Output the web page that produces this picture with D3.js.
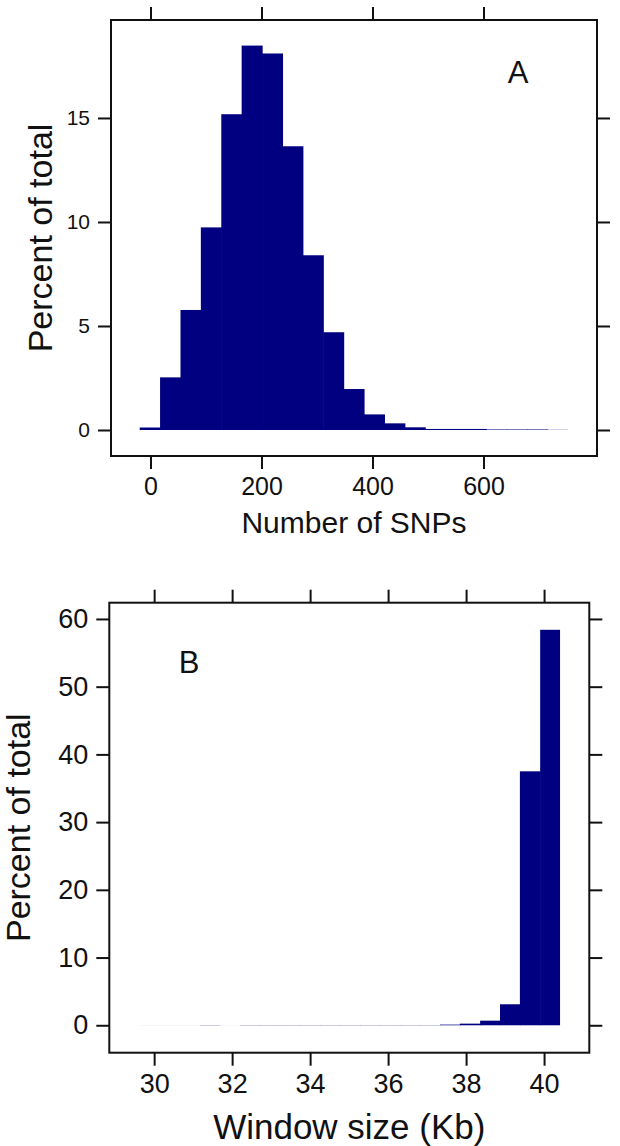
<!DOCTYPE html>
<html>
<head>
<meta charset="utf-8">
<script src="https://cdnjs.cloudflare.com/ajax/libs/d3/7.8.5/d3.min.js"></script>
<style>
  body { margin: 0; background: #fff; }
  svg text { font-family: "Liberation Sans", Arial, sans-serif; fill: #111; }
</style>
</head>
<body>
<div id="chart"></div>
<script>
// panel A: number of SNPs per window
var snpEdges = [-19.5, 17.2, 54, 90.7, 127.5, 164.2, 201, 237.7, 274.4, 311.2, 347.9,
    384.6, 421.4, 458.1, 494.8, 531.6, 568.3, 605, 641.8, 678.5, 715.3, 752];
var snpPercent = [0.12, 2.53, 5.77, 9.74, 15.18, 18.48, 18.1, 13.64, 8.4, 4.7, 1.97,
    0.75, 0.32, 0.13, 0.05, 0.05, 0.05, 0.025, 0.025, 0.025, 0.008];
var snpXTicks = [0, 200, 400, 600];
var snpYTicks = [0, 5, 10, 15];

// panel B: window size in Kb
var winEdges = [29.63, 30.14, 30.66, 31.17, 31.68, 32.2, 32.71, 33.22, 33.74, 34.25, 34.76,
    35.28, 35.79, 36.3, 36.82, 37.33, 37.84, 38.36, 38.87, 39.38, 39.9, 40.41];
var winPercent = [0.005, 0.005, 0.005, 0.03, 0.004, 0.03, 0.03, 0.03, 0.03, 0.03, 0.03,
    0.03, 0.03, 0.03, 0.03, 0.1, 0.24, 0.68, 3.1, 37.5, 58.4];
var winXTicks = [30, 32, 34, 36, 38, 40];
var winYTicks = [0, 10, 20, 30, 40, 50, 60];

var width = 620, height = 1146;

var svg = d3.select("#chart")
    .append("svg")
    .attr("width", width)
    .attr("height", height);

function panel(opt) {
    var x = d3.scaleLinear().domain(opt.xDomain).range([opt.left, opt.right]);
    var y = d3.scaleLinear().domain(opt.yDomain).range([opt.bottom, opt.top]);
    var g = svg.append("g");

    var bins = opt.values.map(function(v, i) {
        return {x0: opt.edges[i], x1: opt.edges[i + 1], v: v, last: i == opt.values.length - 1};
    });

    // bars overlap by half a pixel so no seams show between them
    g.selectAll("rect.bar")
        .data(bins)
        .enter()
        .append("rect")
        .attr("class", "bar")
        .attr("x", function(d) { return x(d.x0); })
        .attr("width", function(d) { return x(d.x1) - x(d.x0) + (d.last ? 0 : 0.6); })
        .attr("y", function(d) { return y(d.v); })
        .attr("height", function(d) { return y(0) - y(d.v); })
        .attr("fill", "#000080");

    var tl = 13;
    var axes = [
        [d3.axisBottom(x).tickValues(opt.xTicks), "translate(0," + opt.bottom + ")", true, opt.xFont],
        [d3.axisTop(x).tickValues(opt.xTicks), "translate(0," + opt.top + ")", false],
        [d3.axisLeft(y).tickValues(opt.yTicks), "translate(" + opt.left + ",0)", true, opt.yFont],
        [d3.axisRight(y).tickValues(opt.yTicks), "translate(" + opt.right + ",0)", false]
    ];
    axes.forEach(function(a) {
        var ax = g.append("g")
            .attr("transform", a[1])
            .call(a[0].tickSize(tl).tickPadding(8).tickFormat(a[2] ? d3.format("d") : ""));
        ax.select(".domain").remove();
        ax.selectAll(".tick line").attr("stroke", "#111").attr("stroke-width", 2);
        ax.selectAll(".tick text")
            .attr("fill", "#111")
            .style("font-size", a[3] + "px")
            .style("font-family", "'Liberation Sans', Arial, sans-serif");
    });

    g.append("rect")
        .attr("x", opt.left)
        .attr("y", opt.top)
        .attr("width", opt.right - opt.left)
        .attr("height", opt.bottom - opt.top)
        .attr("fill", "none")
        .attr("stroke", "#111")
        .attr("stroke-width", 2);

    g.append("text")
        .attr("x", (opt.left + opt.right) / 2)
        .attr("y", opt.xLabelY)
        .attr("text-anchor", "middle")
        .style("font-size", opt.xLabelFont + "px")
        .text(opt.xLabel);

    g.append("text")
        .attr("transform", "translate(" + opt.yLabelX + "," + (opt.top + opt.bottom) / 2 + ") rotate(-90)")
        .attr("text-anchor", "middle")
        .style("font-size", opt.yLabelFont + "px")
        .text("Percent of total");

    g.append("text")
        .attr("x", opt.tagX)
        .attr("y", opt.tagY)
        .attr("text-anchor", "middle")
        .style("font-size", "31px")
        .text(opt.tag);
}

panel({
    edges: snpEdges, values: snpPercent, xTicks: snpXTicks, yTicks: snpYTicks,
    xDomain: [-71.2, 804.5], yDomain: [-1.25, 19.71],
    left: 111, right: 597, top: 20, bottom: 456,
    xFont: 25, yFont: 21, xLabelFont: 30, yLabelFont: 34,
    xLabel: "Number of SNPs", xLabelY: 533, yLabelX: 52,
    tag: "A", tagX: 518, tagY: 83
});

panel({
    edges: winEdges, values: winPercent, xTicks: winXTicks, yTicks: winYTicks,
    xDomain: [28.85, 41.16], yDomain: [-4.05, 62.4],
    left: 109.3, right: 589.3, top: 602.7, bottom: 1052.7,
    xFont: 27, yFont: 27, xLabelFont: 35, yLabelFont: 34,
    xLabel: "Window size (Kb)", xLabelY: 1139, yLabelX: 30,
    tag: "B", tagX: 189, tagY: 673
});
</script>
</body>
</html>
